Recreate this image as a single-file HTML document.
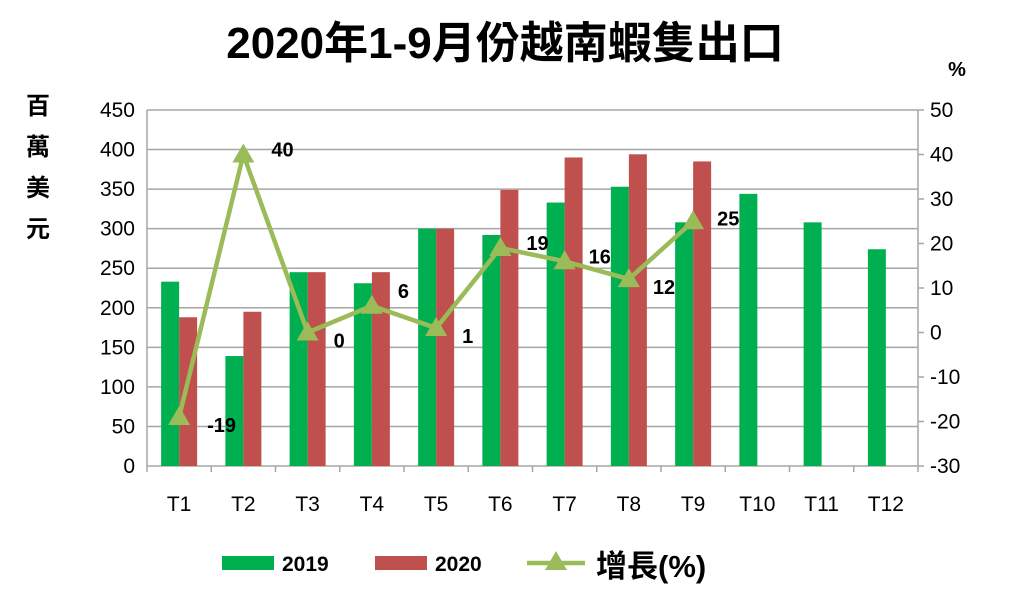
<!DOCTYPE html><html><head><meta charset="utf-8"><style>body{margin:0;background:#fff}svg{display:block}text{font-family:"Liberation Sans","Noto Sans CJK TC",sans-serif}</style></head><body>
<svg width="1024" height="609" xmlns="http://www.w3.org/2000/svg">
<text x="505" y="58" font-size="44" font-weight="bold" text-anchor="middle">2020年1-9月份越南蝦隻出口</text>
<text x="957" y="76" font-size="20" font-weight="bold" text-anchor="middle">%</text>
<g font-size="24" font-weight="bold" text-anchor="middle"><text x="38" y="114">百</text><text x="38" y="155">萬</text><text x="38" y="196">美</text><text x="38" y="237">元</text></g>
<g id="g"></g>
<script>
const S='http://www.w3.org/2000/svg',g=document.getElementById('g');
function el(t,a,txt){const e=document.createElementNS(S,t);for(const k in a)e.setAttribute(k,a[k]);if(txt!==undefined)e.textContent=txt;g.appendChild(e);return e}
const L=147,R=918,B=466,T=110,w=(R-L)/12;
const y=v=>B-v*(B-T)/450, yp=p=>B-(p+30)*(B-T)/80;
for(let i=0;i<=9;i++){const yy=y(i*50);el('line',{x1:L,x2:R,y1:yy,y2:yy,stroke:'#a6a6a6','stroke-width':1.5});
el('text',{x:L-12,y:yy+7,'font-size':21,'text-anchor':'end'},i*50);}
for(let i=0;i<=8;i++){const p=-30+i*10;el('line',{x1:R,x2:R+6,y1:yp(p),y2:yp(p),stroke:'#a6a6a6','stroke-width':1.5});el('text',{x:R+12,y:yp(p)+7,'font-size':21},p);}
el('line',{x1:L,x2:L,y1:T,y2:B,stroke:'#a6a6a6','stroke-width':1.5});
el('line',{x1:R,x2:R,y1:T,y2:B,stroke:'#a6a6a6','stroke-width':1.5});
for(let i=0;i<=12;i++){const x=L+i*w;el('line',{x1:x,x2:x,y1:B,y2:B+6,stroke:'#a6a6a6','stroke-width':1.5});}
const a=[233,139,245,231,300,292,333,353,308,344,308,274],b=[188,195,245,245,300,349,390,394,385],p=[-19,40,0,6,1,19,16,12,25];
a.forEach((v,i)=>{const c=L+w*(i+.5);el('rect',{x:c-18,y:y(v),width:18,height:B-y(v),fill:'#00b050'});el('text',{x:c,y:511,'font-size':21,'text-anchor':'middle'},'T'+(i+1));});
b.forEach((v,i)=>{const c=L+w*(i+.5);el('rect',{x:c,y:y(v),width:18,height:B-y(v),fill:'#c0504d'});});
el('polyline',{points:p.map((v,i)=>(L+w*(i+.5))+','+yp(v)).join(' '),fill:'none',stroke:'#9bbb59','stroke-width':4.5});
const off=[[28,8],[28,-5],[26,8],[26,-15],[26,8],[26,-5],[24,-5],[24,8],[24,-3]];
p.forEach((v,i)=>{const c=L+w*(i+.5),yy=yp(v);el('polygon',{points:`${c},${yy-11} ${c-11},${yy+8} ${c+11},${yy+8}`,fill:'#9bbb59'});
el('text',{x:c+off[i][0],y:yy+off[i][1]+7,'font-size':20,'font-weight':'bold'},v);});
el('rect',{x:222,y:556,width:52,height:14,fill:'#00b050'});el('text',{x:282,y:571,'font-size':21,'font-weight':'bold'},'2019');
el('rect',{x:375,y:556,width:52,height:14,fill:'#c0504d'});el('text',{x:435,y:571,'font-size':21,'font-weight':'bold'},'2020');
el('line',{x1:527,x2:585,y1:563,y2:563,stroke:'#9bbb59','stroke-width':4.5});
el('polygon',{points:'556,551 545,570 567,570',fill:'#9bbb59'});
el('text',{x:596,y:577,'font-size':31,'font-weight':'bold'},'增長(%)');
</script></svg></body></html>
